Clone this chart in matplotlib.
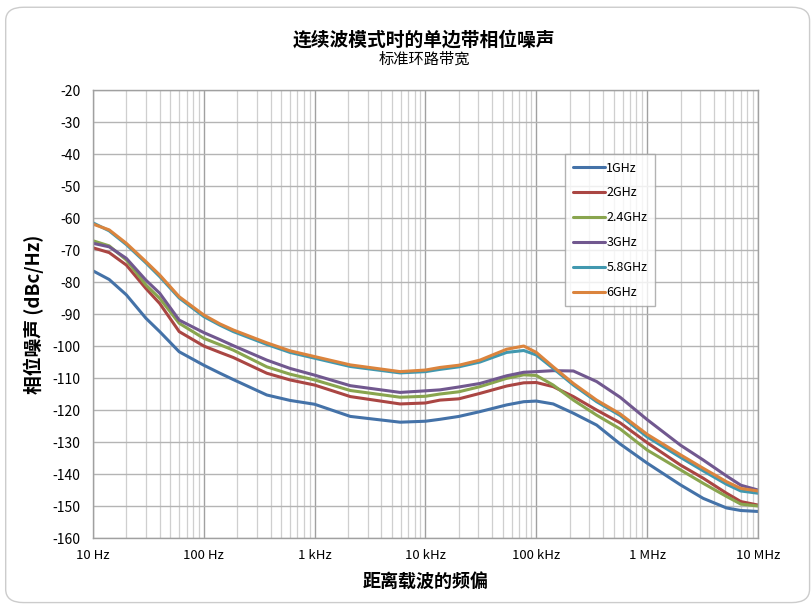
import matplotlib
matplotlib.use("Agg")
import matplotlib.pyplot as plt
from matplotlib.patches import FancyBboxPatch
from matplotlib.ticker import FixedLocator, LogLocator, NullFormatter
import numpy as np

plt.rcParams['font.family'] = ['Noto Sans CJK SC', 'DejaVu Sans']

# 频率点 (Hz)
freq = [10, 14, 20, 30, 40, 60, 100, 140, 185, 370, 600, 1000, 2100, 5900,
        10000, 13500, 20000, 31000, 54000, 77000, 100000, 142000, 216000,
        350000, 570000, 1e6, 2e6, 3.2e6, 5.2e6, 7e6, 1e7]

# 各载波的相位噪声 (dBc/Hz)
pn_1g = [-76.5, -79.2, -84.0, -91.3, -95.5, -101.8, -106.0, -108.5, -110.5,
         -115.3, -117.0, -118.2, -122.0, -123.8, -123.5, -122.9, -122.0,
         -120.5, -118.4, -117.4, -117.2, -118.1, -121.0, -124.7, -130.6,
         -136.6, -143.4, -147.6, -150.6, -151.4, -151.7]
pn_2g = [-69.3, -70.8, -74.7, -82.0, -86.7, -95.5, -100.0, -102.0, -103.6,
         -108.5, -110.6, -112.2, -115.8, -118.1, -117.8, -116.9, -116.5,
         -114.8, -112.5, -111.5, -111.4, -112.7, -115.8, -120.0, -124.0,
         -130.2, -137.2, -141.3, -146.0, -148.6, -149.7]
pn_24g = [-67.1, -68.7, -73.1, -80.9, -85.1, -92.9, -97.6, -99.6, -101.3,
          -106.5, -108.8, -110.6, -113.9, -116.0, -115.7, -115.0, -114.3,
          -112.7, -110.1, -109.0, -109.2, -112.2, -116.9, -121.6, -125.9,
          -132.5, -138.7, -142.9, -147.0, -149.4, -150.0]
pn_3g = [-67.9, -69.0, -72.6, -79.4, -83.5, -91.9, -95.8, -98.0, -99.9,
         -104.4, -107.0, -109.1, -112.4, -114.5, -114.0, -113.7, -112.8,
         -111.7, -109.3, -108.2, -108.0, -107.7, -107.8, -111.1, -116.0,
         -123.0, -131.0, -135.6, -140.6, -143.5, -145.0]
pn_58g = [-61.5, -64.0, -68.3, -74.0, -78.3, -85.0, -90.8, -93.5, -95.5,
          -99.5, -102.0, -103.8, -106.4, -108.4, -108.0, -107.3, -106.5,
          -105.0, -102.0, -101.4, -102.8, -107.0, -112.2, -117.4, -121.7,
          -128.4, -134.8, -139.0, -143.2, -145.3, -146.0]
pn_6g = [-61.9, -63.7, -67.9, -73.6, -77.8, -84.6, -90.3, -93.1, -95.0,
         -99.0, -101.5, -103.3, -105.9, -108.0, -107.5, -106.7, -106.0,
         -104.4, -101.0, -100.0, -102.0, -106.5, -111.7, -116.9, -121.2,
         -127.6, -134.0, -138.2, -142.4, -144.5, -145.3]

labels = ['1GHz', '2GHz', '2.4GHz', '3GHz', '5.8GHz', '6GHz']
colors = ['#4472A8', '#AA4643', '#89A54E', '#71588F', '#4198AF', '#DB843D']
series = [pn_1g, pn_2g, pn_24g, pn_3g, pn_58g, pn_6g]

xticks = [10, 100, 1e3, 1e4, 1e5, 1e6, 1e7]
xticklabels = ['10 Hz', '100 Hz', '1 kHz', '10 kHz', '100 kHz', '1 MHz', '10 MHz']
yticks = list(range(-160, -19, 10))

fig = plt.figure(figsize=(8.12, 6.05), dpi=100)

# 外框圆角
frame = FancyBboxPatch((0.007, 0.004), 0.990, 0.984,
                       boxstyle="round,pad=0,rounding_size=0.022",
                       transform=fig.transFigure, facecolor='white', edgecolor='#cccccc',
                       linewidth=1.0, zorder=-1)
fig.patches.append(frame)

ax = fig.add_axes([0.1145, 0.1107, 0.819, 0.7405])
ax.set_facecolor('none')

for s, c, lab in zip(series, colors, labels):
    ax.plot(freq, s, color=c, linewidth=2.2, label=lab,
            solid_capstyle='round', solid_joinstyle='round')

ax.set_xscale('log')
ax.set_xlim(10, 1e7)
ax.set_ylim(-160, -20)
ax.xaxis.set_major_locator(FixedLocator(xticks))
ax.set_xticklabels(xticklabels, fontsize=9.5)
ax.xaxis.set_minor_locator(LogLocator(base=10, subs=np.arange(2, 10)))
ax.xaxis.set_minor_formatter(NullFormatter())
ax.set_yticks(yticks)
ax.set_yticklabels([str(v) for v in yticks], fontsize=10)

ax.grid(which='major', axis='x', color='#a0a0a0', linewidth=1.0)
ax.grid(which='minor', axis='x', color='#cfcfcf', linewidth=0.9)
ax.grid(which='major', axis='y', color='#b4b4b4', linewidth=1.0)
ax.set_axisbelow(True)
ax.tick_params(axis='both', which='both', length=0)
ax.tick_params(axis='y', pad=9)
ax.tick_params(axis='x', pad=8)
for sp in ax.spines.values():
    sp.set_color('#a0a0a0')
    sp.set_linewidth(1.0)

ax.set_xlabel('距离载波的频偏', fontsize=13, fontweight='bold', labelpad=7)
ax.set_ylabel('相位噪声 (dBc/Hz)', fontsize=13.5, fontweight='bold', labelpad=6)

fig.text(0.5225, 0.934, '连续波模式时的单边带相位噪声', ha='center', va='center',
         fontsize=13.5, fontweight='bold')
fig.text(0.5225, 0.902, '标准环路带宽', ha='center', va='center', fontsize=11)

leg = ax.legend(loc='upper left', bbox_to_anchor=(0.71, 0.857), fontsize=9,
                frameon=True, fancybox=False, edgecolor='#a0a0a0', handlelength=2.6,
                handletextpad=0.1, labelspacing=0.95, borderpad=0.6, borderaxespad=0)
leg.get_frame().set_linewidth(1.0)

plt.savefig('out.png', dpi=100)
